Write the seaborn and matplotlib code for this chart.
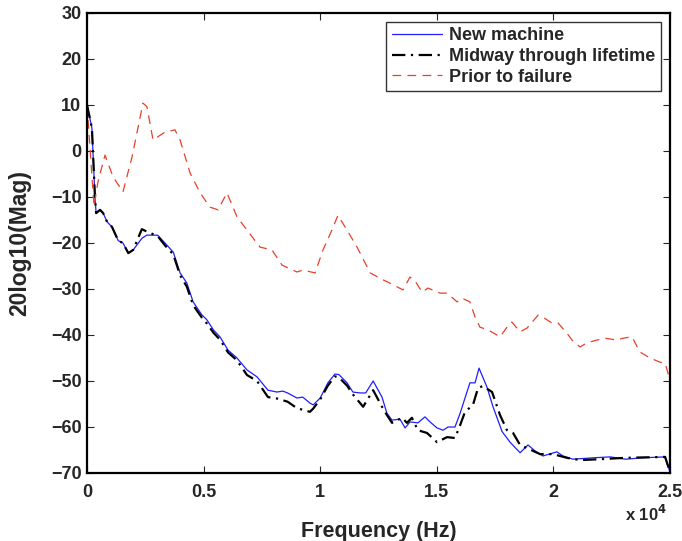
import numpy as np
import pandas as pd
import matplotlib
matplotlib.use("Agg")
import matplotlib.pyplot as plt
import seaborn as sns

# -----------------------------
# Data
# -----------------------------
new_freq = [0, 210, 340, 390, 560, 690, 860, 1070, 1340, 1540, 1770, 1980, 2350,
            2560, 3030, 3340, 3700, 3990, 4280, 4550, 4920, 5140, 5420, 5700,
            6050, 6430, 6860, 7290, 7760, 8140, 8400, 8600, 9000, 9250, 9560,
            9700, 10000, 10330, 10630, 10800, 11150, 11400, 11710, 11950, 12270,
            12650, 12860, 13080, 13420, 13640, 13850, 14190, 14490, 14710, 15010,
            15270, 15480, 15780, 16000, 16420, 16640, 16810, 17150, 17410, 17800,
            18140, 18570, 18910, 19210, 19550, 20150, 20410, 20840, 21700, 22430,
            23100, 23800, 24790, 25000]
new_mag = [10, 5, -10, -13.5, -12.8, -13.5, -15.4, -16.5, -19.5, -20, -22.2,
           -21.5, -19, -18.3, -18.3, -20, -22, -26.5, -28.7, -32.8, -35.6,
           -36.7, -38.9, -40.4, -43.3, -45, -47.6, -49.1, -52, -52.4, -52.2,
           -52.6, -53.7, -53.5, -54.8, -55.2, -53.7, -50.4, -48.5, -48.6, -50.4,
           -52.4, -52.6, -52.6, -50, -53.5, -57, -58.5, -58.3, -60.2, -58.9,
           -59.1, -57.8, -58.9, -60.2, -60.7, -60, -60, -57, -50.4, -50.4, -47.2,
           -51.3, -55.6, -61, -63.3, -65.6, -63.9, -65.2, -66.3, -65.4, -66.3,
           -67, -66.7, -66.5, -67, -66.7, -66.5, -69.8]

mid_freq = [0, 210, 340, 390, 560, 690, 860, 1070, 1340, 1540, 1770, 1980, 2350,
            2560, 3030, 3340, 3700, 3990, 4280, 4550, 4920, 5140, 5420, 5700,
            6050, 6430, 6860, 7290, 7760, 8140, 8600, 9000, 9560, 9700, 10000,
            10330, 10630, 10800, 11150, 11400, 11840, 12270, 12650, 12860, 13080,
            13510, 13720, 13930, 14190, 14580, 15010, 15440, 15780, 16000, 16210,
            16550, 16770, 16980, 17370, 17710, 18010, 18270, 18570, 18870, 19430,
            19980, 20580, 21150, 22000, 23100, 24790, 25000]
mid_mag = [10, 5, -10, -13.5, -12.8, -13.5, -15.4, -16.5, -19.5, -20, -22.2,
           -21.5, -17, -17.5, -18.5, -20.5, -22.5, -27, -29.5, -33.5, -36.2,
           -37.5, -39.5, -41, -43.8, -45.5, -48.7, -50, -53.5, -53.8, -54.5,
           -55.9, -56.7, -56, -54, -51, -49, -49.2, -51, -52.9, -55.6, -52,
           -55.6, -57.4, -59.1, -58, -59.1, -58, -60.7, -61.3, -63.3, -62.2,
           -62.4, -59.6, -56.7, -55.2, -51.5, -51.1, -52.4, -57.4, -60.7, -61.3,
           -63.9, -64.6, -65.9, -65.9, -66.7, -67.2, -67, -66.7, -66.5, -69.8]

fail_freq = [0, 300, 470, 770, 1115, 1540, 1930, 2400, 2570, 2830, 3340, 3770,
             3990, 4420, 4850, 5270, 5620, 6000, 6430, 6860, 7420, 7930, 8360,
             9000, 9260, 9780, 10120, 10500, 10760, 11150, 11580, 12140, 12690,
             12900, 13550, 13850, 14100, 14370, 14620, 15140, 15440, 15870,
             16080, 16420, 16640, 16850, 17200, 17710, 18010, 18220, 18570,
             18870, 19340, 19600, 19940, 20200, 20580, 20800, 21140, 21440,
             21870, 22210, 22730, 22980, 23370, 23710, 24140, 24570, 24790,
             25000]
fail_mag = [10, -12, -6.7, -0.9, -5.6, -8.9, -1.3, 10.4, 9.6, 2.4, 4.1, 4.6,
            2.4, -4.8, -9.1, -12.2, -12.8, -9.1, -14.3, -17.2, -20.9, -21.5,
            -24.8, -26.3, -25.9, -26.5, -21.5, -17.2, -14, -17.2, -20.9, -26.5,
            -28, -28.5, -30.2, -27.4, -28.5, -30.7, -29.8, -30.9, -30.9, -32.8,
            -32, -32.8, -36.1, -38.3, -38.9, -40.4, -38.3, -37.2, -39.3, -38.5,
            -35.7, -36.3, -37.4, -37.4, -39.6, -41.1, -42.6, -41.7, -41.1,
            -40.7, -41.1, -40.7, -40.4, -43.7, -45, -45.9, -46.1, -49.8]

x_ticks = [0, 5000, 10000, 15000, 20000, 25000]
x_tick_labels = ["0", "0.5", "1", "1.5", "2", "2.5"]
y_ticks = [-70, -60, -50, -40, -30, -20, -10, 0, 10, 20, 30]

# -----------------------------
# Plot
# -----------------------------
sns.set_style("ticks")
plt.rcParams["font.family"] = ["Liberation Sans", "DejaVu Sans"]
plt.rcParams["font.weight"] = "bold"
plt.rcParams["axes.labelweight"] = "bold"

fig = plt.figure(figsize=(6.82, 5.41), dpi=100)
ax = fig.add_axes([0.1276, 0.1257, 0.8548, 0.8503])

sns.lineplot(x=new_freq, y=new_mag, ax=ax, color="#1f1fff", linewidth=0.9,
             label="New machine")
sns.lineplot(x=mid_freq, y=mid_mag, ax=ax, color="black", linewidth=1.6,
             linestyle=(0, (6, 2.5, 1, 2.5)), label="Midway through lifetime")
sns.lineplot(x=fail_freq, y=fail_mag, ax=ax, color="#e8402a", linewidth=0.9,
             linestyle=(0, (7, 5)), label="Prior to failure")

ax.set_xlim(0, 25000)
ax.set_ylim(-70, 30)
ax.set_xticks(x_ticks)
ax.set_xticklabels(x_tick_labels)
ax.set_yticks(y_ticks)
ax.tick_params(direction="in", top=True, right=True, labelsize=13, length=5,
               width=0.8)
ax.tick_params(axis="x", pad=8)
ax.tick_params(axis="y", pad=4)
for lbl in ax.get_xticklabels() + ax.get_yticklabels():
    lbl.set_fontweight("bold")
for side in ax.spines.values():
    side.set_linewidth(1.6)
    side.set_color("black")

ax.set_xlabel("Frequency (Hz)", fontsize=15.5, fontweight="bold", labelpad=14)
ax.set_ylabel("20log10(Mag)", fontsize=16.5, fontweight="bold", labelpad=14)
fig.text(0.978, 0.032, r"x 10$^{\mathbf{4}}$", ha="right", va="bottom",
         fontsize=12, fontweight="bold")

leg = ax.legend(loc="upper right", fontsize=13, frameon=True, fancybox=False,
                handlelength=2.8, borderaxespad=0.5, labelspacing=0.2,
                handletextpad=0.4, borderpad=0.3)
leg.get_frame().set_edgecolor("black")
leg.get_frame().set_linewidth(1.0)
for t in leg.get_texts():
    t.set_fontweight("bold")

fig.savefig("out.png", dpi=100)
